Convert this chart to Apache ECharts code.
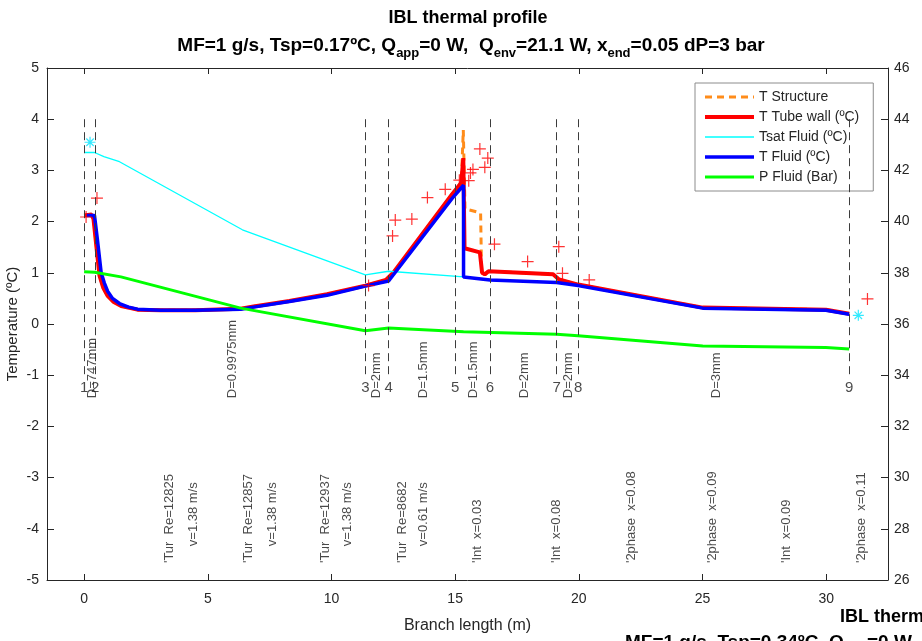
<!DOCTYPE html>
<html><head><meta charset="utf-8">
<script src="https://cdn.jsdelivr.net/npm/echarts@6/dist/echarts.min.js"></script>
<style>html,body{margin:0;padding:0;background:#fff}#c{width:922px;height:641px}</style>
</head><body><div id="c"></div>
<script>
// ---- data (x = branch length m, y = temperature ºC or pressure bar) ----
const tStructure = [[0,2.12],[0.3,2.14],[0.38,2.05],[0.5,1.5],[0.62,0.95],[0.78,0.7],[0.95,0.55],[1.2,0.43],[1.5,0.35],[2.16,0.28],[3.1,0.27],[4.5,0.27],[6.33,0.30],[6.85,0.34],[8.3,0.45],[9.82,0.58],[11.37,0.75],[12.2,0.86],[12.5,1.0],[14.87,2.53],[15.25,2.76],[15.33,3.79],[15.40,2.25],[16.03,2.17],[16.07,1.0],[16.2,0.97],[16.35,1.03],[18.96,0.97],[19.2,0.87],[19.97,0.77],[25.01,0.32],[29.99,0.28],[30.93,0.2]];
const tWall = [[0,2.12],[0.3,2.14],[0.38,2.05],[0.5,1.5],[0.62,0.95],[0.78,0.7],[0.95,0.55],[1.2,0.43],[1.5,0.35],[2.16,0.28],[3.1,0.27],[4.5,0.27],[6.33,0.30],[6.85,0.34],[8.3,0.45],[9.82,0.58],[11.37,0.75],[12.2,0.86],[12.5,1.0],[14.87,2.53],[15.25,2.76],[15.33,3.24],[15.38,1.48],[16.0,1.40],[16.09,1.0],[16.2,0.97],[16.35,1.03],[18.96,0.97],[19.2,0.87],[19.97,0.77],[25.01,0.32],[29.99,0.28],[30.93,0.2]];
const tSat = [[0,3.35],[0.42,3.35],[0.8,3.27],[1.43,3.17],[6.4,1.84],[11.37,0.96],[12.31,1.03],[15.34,0.92],[16.41,0.86],[19.1,0.81],[19.97,0.75],[25.01,0.31],[29.99,0.27],[30.93,0.19]];
const tFluid = [[0.1,2.12],[0.42,2.12],[0.55,1.6],[0.69,1.0],[0.82,0.8],[0.95,0.64],[1.15,0.5],[1.43,0.40],[1.8,0.33],[2.16,0.29],[3.1,0.27],[4.5,0.27],[6.33,0.29],[6.85,0.33],[8.3,0.44],[9.82,0.56],[11.37,0.74],[12.31,0.84],[14.87,2.45],[15.34,2.71],[15.34,0.92],[16.41,0.86],[19.1,0.81],[19.97,0.75],[25.01,0.31],[29.99,0.27],[30.93,0.19]];
const pFluid = [[0,38.04],[0.42,38.02],[1.49,37.84],[6.33,36.62],[11.37,35.74],[12.31,35.84],[15.34,35.7],[19.1,35.6],[19.97,35.54],[25.01,35.14],[29.99,35.08],[30.93,35.02]];
const measWall = [[0.08,2.09],[0.52,2.46],[11.5,0.75],[12.47,1.72],[12.58,2.03],[13.25,2.05],[13.88,2.47],[14.6,2.63],[15.17,2.81],[15.55,2.80],[15.62,2.95],[15.72,3.02],[16.0,3.42],[16.2,3.06],[16.32,3.24],[16.59,1.56],[17.93,1.22],[19.19,1.51],[19.34,0.99],[20.42,0.86],[31.67,0.49]];
const tsatMarks = [[0.24,3.55],[31.3,0.17]];

const sectionX = [0,0.45,11.37,12.31,15.0,16.41,19.1,19.97,30.93];
const sectionNames = ['1','2','3','4','5','6','7','8','9'];
const diamText = ['D=747mm','D=0.9975mm','D=2mm','D=1.5mm','D=1.5mm','D=2mm','D=2mm','D=3mm'];
const diamX = [0.32,6.0,11.8,13.7,15.73,17.82,19.6,25.55];
const regimeText = ["'Tur  Re=12825","'Tur  Re=12857","'Tur  Re=12937","'Tur  Re=8682","'Int  x=0.03","'Int  x=0.08","'2phase  x=0.08","'2phase  x=0.09","'Int  x=0.09","'2phase  x=0.11"];
const regimeX = [3.43,6.65,9.76,12.86,15.89,19.11,22.14,25.40,28.39,31.41];
const velText = ['v=1.38 m/s','v=1.38 m/s','v=1.38 m/s','v=0.61 m/s'];
const velX = [4.40,7.62,10.65,13.71];
const xTicks = [0,5,10,15,20,25,30];

const FONT = "'Liberation Sans', Arial, Helvetica, sans-serif";
const INK = '#262626';
const chart = echarts.init(document.getElementById('c'), null, {renderer:'canvas'});

const dashTop = 4, dashBottom = -1.05, numY = -1.24, diamY = -1.45, regY = -4.67, velY = -4.34;

function textSeries(data, opts) {
  return {
    type:'scatter', symbolSize:0, silent:true, yAxisIndex:0, z:5,
    data: data,
    label: Object.assign({show:true, position:'inside', formatter:p=>p.data[2],
      color:'#1a1a1a', fontFamily:FONT}, opts)
  };
}
const plus = 'path://M5 0L5 10M0 5L10 5';
const star = 'path://M5 0L5 10M0 5L10 5M1.6 1.6L8.4 8.4M1.6 8.4L8.4 1.6';
const subRich = {m:{fontSize:19, fontWeight:'bold', fontFamily:FONT, fill:'#000'},
                 s:{fontSize:13, fontWeight:'bold', fontFamily:FONT, fill:'#000', padding:[14,0,0,0]}};

const option = {
  animation:false,
  textStyle:{fontFamily:FONT},
  grid:{left:47, right:34, top:68, bottom:61, show:false, containLabel:false, outerBoundsMode:'none'},
  legend:{
    data:['T Structure','T Tube wall (ºC)','Tsat Fluid (ºC)','T Fluid (ºC)','P Fluid (Bar)'],
    orient:'vertical', left:695, top:83, padding:[7,14,7,8], itemGap:6,
    itemWidth:49, itemHeight:14, backgroundColor:'#fff',
    borderColor:'#8c8c8c', borderWidth:1, borderRadius:0, selectedMode:false,
    itemStyle:{opacity:0}, lineStyle:{width:'inherit'},
    textStyle:{fontSize:14, color:INK, fontFamily:FONT}
  },
  xAxis:[{
    type:'value', min:-1.5, max:32.5, position:'bottom',
    name:'Branch length (m)', nameLocation:'middle', nameGap:38,
    nameTextStyle:{fontSize:16, color:INK, fontFamily:FONT},
    axisLine:{show:true, onZero:false, lineStyle:{color:INK, width:1}},
    axisTick:{show:true, inside:true, length:6, customValues:xTicks, lineStyle:{color:INK}},
    axisLabel:{customValues:xTicks, fontSize:14, color:INK, margin:12, fontFamily:FONT},
    splitLine:{show:false}
  },{
    type:'value', min:-1.5, max:32.5, position:'top',
    axisLine:{show:true, onZero:false, lineStyle:{color:INK, width:1}},
    axisTick:{show:true, inside:true, length:6, customValues:xTicks, lineStyle:{color:INK}},
    axisLabel:{show:false}, splitLine:{show:false}
  }],
  yAxis:[{
    type:'value', min:-5, max:5, interval:1, position:'left',
    axisLine:{show:true, onZero:false, lineStyle:{color:INK, width:1}},
    axisTick:{show:true, inside:true, length:7, lineStyle:{color:INK}},
    axisLabel:{fontSize:14, color:INK, margin:8, fontFamily:FONT},
    splitLine:{show:false}
  },{
    type:'value', min:26, max:46, interval:2, position:'right',
    axisLine:{show:true, onZero:false, lineStyle:{color:INK, width:1}},
    axisTick:{show:true, inside:true, length:7, lineStyle:{color:INK}},
    axisLabel:{fontSize:14, color:INK, margin:6, fontFamily:FONT},
    splitLine:{show:false}
  }],
  series:[
    {type:'line', name:'sections', data:[], yAxisIndex:0, silent:true, z:1,
     markLine:{silent:true, symbol:['none','none'], label:{show:false},
       lineStyle:{type:[8,5], color:'#3c3c3c', width:1},
       data: sectionX.map(x=>[{coord:[x,dashTop]},{coord:[x,dashBottom]}])}},
    {type:'line', name:'T Structure', data:tStructure, yAxisIndex:0, symbol:'none', z:2,
     lineStyle:{color:'#ff8c1a', width:3, type:[7,5]}, itemStyle:{color:'#ff8c1a'}},
    {type:'line', name:'T Tube wall (ºC)', data:tWall, yAxisIndex:0, symbol:'none', z:2,
     lineStyle:{color:'#ff0000', width:4}, itemStyle:{color:'#ff0000'}},
    {type:'line', name:'Tsat Fluid (ºC)', data:tSat, yAxisIndex:0, symbol:'none', z:2,
     lineStyle:{color:'#00ffff', width:1.3}, itemStyle:{color:'#00ffff'}},
    {type:'line', name:'T Fluid (ºC)', data:tFluid, yAxisIndex:0, symbol:'none', z:2,
     lineStyle:{color:'#0000ff', width:3.5}, itemStyle:{color:'#0000ff'}},
    {type:'line', name:'P Fluid (Bar)', data:pFluid, yAxisIndex:1, symbol:'none', z:2,
     lineStyle:{color:'#00ff00', width:3}, itemStyle:{color:'#00ff00'}},
    {type:'scatter', name:'meas', data:measWall, yAxisIndex:0, symbol:plus, symbolSize:12, z:3,
     itemStyle:{color:'rgba(0,0,0,0)', borderColor:'#ff0000', borderWidth:1.2}},
    {type:'scatter', name:'tsatm', data:tsatMarks, yAxisIndex:0, symbol:star, symbolSize:11, z:3,
     itemStyle:{color:'rgba(0,0,0,0)', borderColor:'#00e5ff', borderWidth:1.2}},
    textSeries(sectionX.map((x,i)=>[x,numY,sectionNames[i]]), {fontSize:15, align:'center', verticalAlign:'middle'}),
    textSeries(diamX.map((x,i)=>[x,diamY,diamText[i]]), {fontSize:13, align:'left', verticalAlign:'middle', rotate:90}),
    textSeries(regimeX.map((x,i)=>[x,regY,regimeText[i]]), {fontSize:13, align:'left', verticalAlign:'middle', rotate:90}),
    textSeries(velX.map((x,i)=>[x,velY,velText[i]]), {fontSize:13, align:'left', verticalAlign:'middle', rotate:90})
  ],
  graphic:[
    {type:'text', silent:true, x:13, y:324, rotation:Math.PI/2,
     style:{x:0, y:0, text:'Temperature (ºC)', align:'center', verticalAlign:'middle',
      font:"15px 'Liberation Sans', Arial, sans-serif", fill:INK}},
    {type:'text', silent:true, style:{x:468, y:18, text:'IBL thermal profile', align:'center', verticalAlign:'middle',
      font:"bold 18px 'Liberation Sans', Arial, sans-serif", fill:'#000'}},
    {type:'text', silent:true, style:{x:471, y:46, align:'center', verticalAlign:'middle', fill:'#000',
      text:'{m|MF=1 g/s, Tsp=0.17ºC, Q}{s|app}{m|=0 W,  Q}{s|env}{m|=21.1 W, x}{s|end}{m|=0.05 dP=3 bar}',
      rich:subRich}},
    {type:'text', silent:true, style:{x:840, y:617, text:'IBL thermal profile', align:'left', verticalAlign:'middle',
      font:"bold 18px 'Liberation Sans', Arial, sans-serif", fill:'#000'}},
    {type:'text', silent:true, style:{x:625, y:643, align:'left', verticalAlign:'middle', fill:'#000',
      text:'{m|MF=1 g/s, Tsp=0.34ºC, Q}{s|app}{m|=0 W,  Q}{s|env}{m|=21.1 W}',
      rich:subRich}}
  ]
};
chart.setOption(option);
</script></body></html>
